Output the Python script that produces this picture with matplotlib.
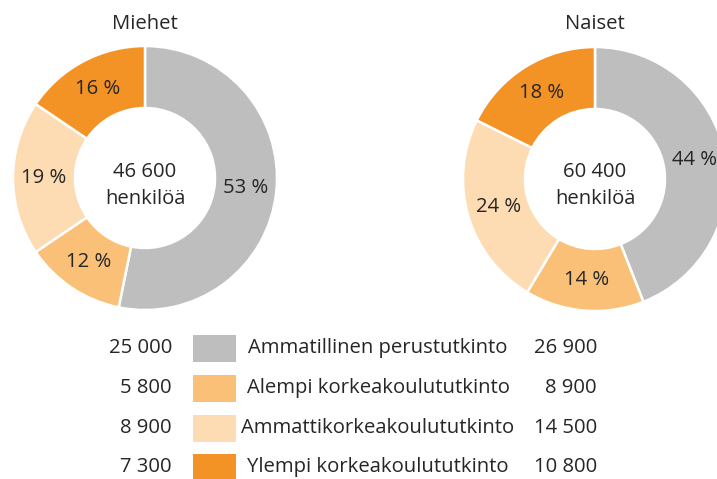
import numpy as np
import matplotlib.pyplot as plt

plt.rcParams['font.family'] = ['Open Sans', 'DejaVu Sans']

# Data
categories = ['Ammatillinen perustutkinto', 'Alempi korkeakoulututkinto',
              'Ammattikorkeakoulututkinto', 'Ylempi korkeakoulututkinto']
colors = ['#bdbebd', '#fbc077', '#fddcb4', '#f39325']
men_counts = [25000, 5800, 8900, 7300]
women_counts = [26900, 8900, 14500, 10800]
men_pct = ['53 %', '12 %', '19 %', '16 %']
women_pct = ['44 %', '14 %', '24 %', '18 %']
men_total = '46 600'
women_total = '60 400'
men_counts_txt = ['25 000', '5 800', '8 900', '7 300']
women_counts_txt = ['26 900', '8 900', '14 500', '10 800']

W, H = 717, 479
TXT = '#262626'
FS = 14.6

fig = plt.figure(figsize=(W / 100, H / 100), dpi=100)
ax = fig.add_axes([0, 0, 1, 1])

R_OUT, R_IN = 132, 70


def donut(cx, cy, counts, pcts, title, total):
    wedges, _ = ax.pie(counts, colors=colors, startangle=90, counterclock=False,
                       center=(cx, H - cy), radius=R_OUT,
                       wedgeprops=dict(width=R_OUT - R_IN, edgecolor='white', linewidth=1.8))
    r_mid = (R_OUT + R_IN) / 2
    for w, p in zip(wedges, pcts):
        ang = np.deg2rad((w.theta1 + w.theta2) / 2)
        ax.text(cx + r_mid * np.cos(ang), H - cy + r_mid * np.sin(ang), p,
                ha='center', va='center', fontsize=FS, color=TXT)
    ax.text(cx, H - 24, title, ha='center', va='center', fontsize=FS, color=TXT)
    ax.text(cx, H - 172, total, ha='center', va='center', fontsize=FS, color=TXT)
    ax.text(cx, H - 199, 'henkilöä', ha='center', va='center', fontsize=FS, color=TXT)


donut(145, 178, men_counts, men_pct, 'Miehet', men_total)
donut(595, 179, women_counts, women_pct, 'Naiset', women_total)

# legend table
row_y = [348, 388, 428, 467]
for y, cat, col, m, w in zip(row_y, categories, colors, men_counts_txt, women_counts_txt):
    ax.text(172, H - y, m, ha='right', va='center', fontsize=FS, color=TXT)
    ax.add_patch(plt.Rectangle((193, H - y - 13.5), 43, 27, color=col, lw=0))
    ax.text(378, H - y, cat, ha='center', va='center', fontsize=FS, color=TXT)
    ax.text(597, H - y, w, ha='right', va='center', fontsize=FS, color=TXT)

ax.set_xlim(0, W)
ax.set_ylim(0, H)
ax.set_aspect('equal')
ax.axis('off')

fig.savefig('out.png', dpi=100)
